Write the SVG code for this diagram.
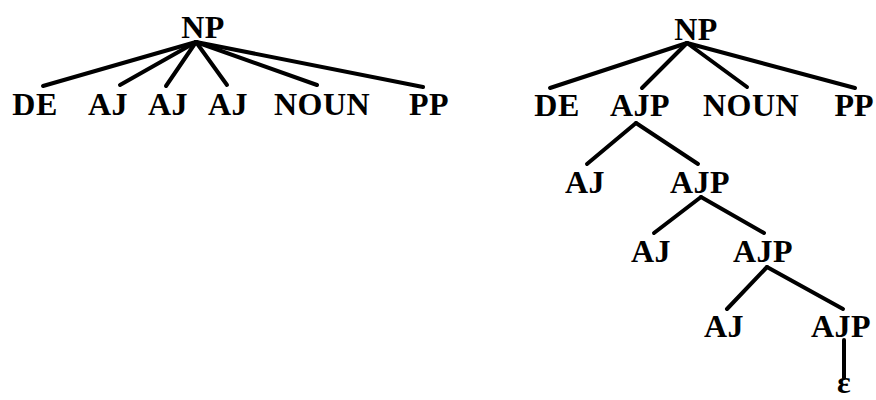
<svg xmlns="http://www.w3.org/2000/svg" width="876" height="400" viewBox="0 0 876 400">
  <style>
    .lbl { font-family: "Liberation Serif", "Times New Roman", serif; font-weight: bold; font-size: 32px; fill: #000; text-anchor: middle; letter-spacing: 0.5px; }
    .tight { letter-spacing: 0; }
    .edge { stroke: #000; stroke-width: 4; stroke-linecap: round; fill: none; }
  </style>
  <rect width="876" height="400" fill="#fff"/>

  <!-- flat tree: connectors -->
  <g id="edges-flat" class="edge">
    <line x1="196" y1="42" x2="43" y2="86"/>
    <line x1="196" y1="42" x2="120" y2="85"/>
    <line x1="196" y1="42" x2="166" y2="86"/>
    <line x1="196" y1="42" x2="227" y2="85"/>
    <line x1="196" y1="42" x2="317" y2="85"/>
    <line x1="196" y1="42" x2="423" y2="87"/>
  </g>

  <!-- flat tree: nodes -->
  <g id="np-flat"><text class="lbl" x="203" y="38">NP</text></g>
  <g id="de-flat"><text class="lbl" x="35" y="115">DE</text></g>
  <g id="aj-flat-1"><text class="lbl" x="108" y="115">AJ</text></g>
  <g id="aj-flat-2"><text class="lbl" x="168" y="115">AJ</text></g>
  <g id="aj-flat-3"><text class="lbl" x="228" y="115">AJ</text></g>
  <g id="noun-flat"><text class="lbl" x="322" y="115">NOUN</text></g>
  <g id="pp-flat"><text class="lbl" x="429" y="115">PP</text></g>

  <!-- recursive tree: connectors -->
  <g id="edges-rec" class="edge">
    <line x1="687" y1="43" x2="550" y2="88"/>
    <line x1="687" y1="43" x2="642" y2="88"/>
    <line x1="687" y1="43" x2="747" y2="87"/>
    <line x1="687" y1="43" x2="855" y2="88"/>
    <line x1="636" y1="123" x2="587" y2="164"/>
    <line x1="636" y1="123" x2="698" y2="164"/>
    <line x1="701" y1="197" x2="654" y2="233"/>
    <line x1="701" y1="197" x2="764" y2="233"/>
    <line x1="767" y1="267" x2="727" y2="309"/>
    <line x1="767" y1="267" x2="843" y2="309"/>
    <line x1="844" y1="340" x2="844" y2="378"/>
  </g>

  <!-- recursive tree: nodes -->
  <g id="np-rec"><text class="lbl" x="696" y="40">NP</text></g>
  <g id="de-rec"><text class="lbl" x="557" y="116">DE</text></g>
  <g id="ajp-rec-1"><text class="lbl" x="640" y="116">AJP</text></g>
  <g id="noun-rec"><text class="lbl" x="751" y="116">NOUN</text></g>
  <g id="pp-rec"><text class="lbl tight" x="854" y="116">PP</text></g>
  <g id="aj-rec-1"><text class="lbl" x="585" y="193">AJ</text></g>
  <g id="ajp-rec-2"><text class="lbl" x="700" y="193">AJP</text></g>
  <g id="aj-rec-2"><text class="lbl" x="651" y="262">AJ</text></g>
  <g id="ajp-rec-3"><text class="lbl" x="763" y="262">AJP</text></g>
  <g id="aj-rec-3"><text class="lbl" x="724" y="337">AJ</text></g>
  <g id="ajp-rec-4"><text class="lbl" x="841" y="337">AJP</text></g>
  <g id="eps"><text class="lbl" x="844" y="393">ε</text></g>
</svg>
